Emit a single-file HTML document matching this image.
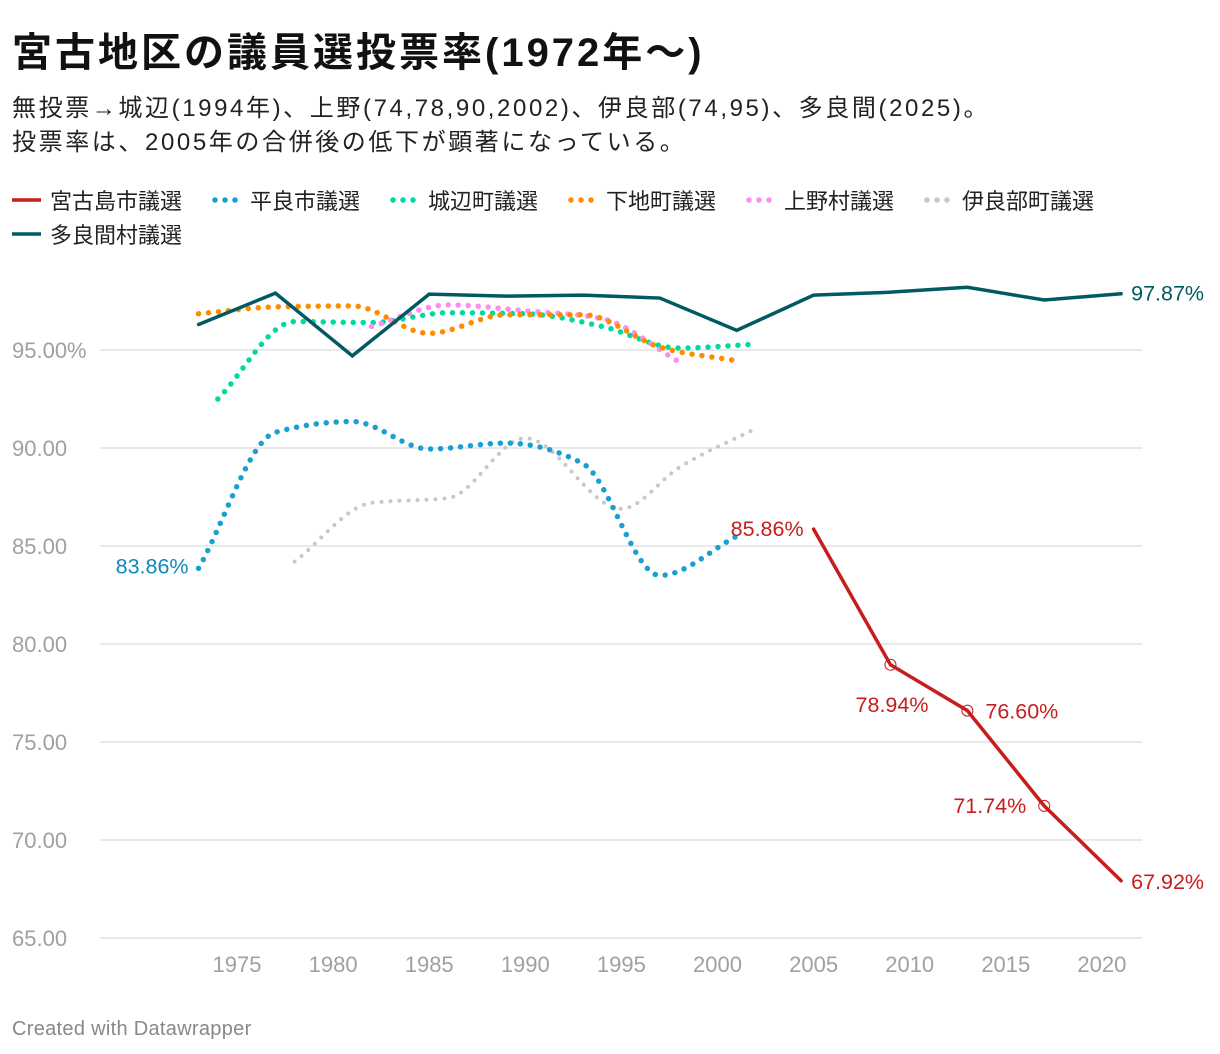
<!DOCTYPE html>
<html><head><meta charset="utf-8">
<style>
body{margin:0;background:#fff;width:1220px;height:1054px;overflow:hidden;font-family:"Liberation Sans","Noto Sans CJK JP",sans-serif;}
#title{position:absolute;left:12px;top:20px;font-size:40px;font-weight:bold;color:#111;margin:0;letter-spacing:3px;white-space:nowrap}
#sub{position:absolute;left:12px;top:92px;font-size:24px;line-height:34px;color:#222;letter-spacing:2.6px;white-space:nowrap}
.leg{position:absolute;font-size:22px;color:#222;display:flex;align-items:center;white-space:nowrap}
#foot{position:absolute;left:12px;top:1018px;font-size:20px;color:#888;letter-spacing:0.3px}
svg{position:absolute;left:0;top:0}
</style></head><body>
<h1 id="title">宮古地区の議員選投票率(1972年〜)</h1>
<div id="sub">無投票→城辺(1994年)、上野(74,78,90,2002)、伊良部(74,95)、多良間(2025)。<br>投票率は、2005年の合併後の低下が顕著になっている。</div>
<div id="legend"></div>
<svg id="chart" width="1220" height="1054"></svg>
<div id="foot">Created with Datawrapper</div>
<script>
const yTicks=[65,70,75,80,85,90,95];
const xTicks=[1975,1980,1985,1990,1995,2000,2005,2010,2015,2020];
const miyakoYears=[2005,2009,2013,2017,2021];
const miyakoVals=[85.86,78.94,76.60,71.74,67.92];
const taramaYears=[1973,1977,1981,1985,1989,1993,1997,2001];
const taramaVals=[83.86,90.8,91.35,89.95,90.25,89.2,83.5,85.5];
const gusukubeYears=[1974,1978,1982,1986,1990,1994,1998,2002];
const gusukubeVals=[92.5,96.45,96.4,96.9,96.85,96.2,95.1,95.3];
const shimojiYears=[1973,1977,1981,1985,1989,1993,1997,2001];
const shimojiVals=[96.85,97.2,97.25,95.85,96.8,96.8,95.15,94.45];
const uenoYears=[1982,1986,1990,1994,1998];
const uenoVals=[96.2,97.3,97.0,96.6,94.4];
const irabuYears=[1978,1982,1986,1990,1995,1998,2002];
const irabuVals=[84.2,87.2,87.45,90.5,86.9,89.0,91.0];
const taramasonYears=[1973,1977,1981,1985,1989,1993,1997,2001,2005,2009,2013,2017,2021];
const taramasonVals=[96.3,97.9,94.7,97.85,97.75,97.8,97.65,96.0,97.8,97.95,98.2,97.55,97.87];

const X=y=>237+(y-1975)*19.22;
const Y=v=>938-(v-65)*19.6;
const NS='http://www.w3.org/2000/svg';
const svg=document.getElementById('chart');
function mk(t,a){const e=document.createElementNS(NS,t);for(const k in a)e.setAttribute(k,a[k]);svg.appendChild(e);return e;}

yTicks.forEach(v=>{
  const l=mk('line',{x1:100,x2:1142,y1:Y(v),y2:Y(v),stroke:'#e2e2e2','stroke-width':1.5});
  
  
  const t=mk('text',{x:12,y:Y(v)+8,'font-size':22,fill:'#a0a0a0','font-family':'Liberation Sans, sans-serif'});
  t.textContent=v.toFixed(2)+(v===95?'%':'');
  
  
});
xTicks.forEach(y=>{
  const t=mk('text',{x:X(y),y:972,'font-size':22,fill:'#a0a0a0','text-anchor':'middle','font-family':'Liberation Sans, sans-serif'});
  t.textContent=y;
  
  
});

function monotone(xs,ys){
  const n=xs.length;if(n<2)return '';
  const d=[],m=[];
  for(let i=0;i<n-1;i++)d.push((ys[i+1]-ys[i])/(xs[i+1]-xs[i]));
  m[0]=d[0];m[n-1]=d[n-2];
  for(let i=1;i<n-1;i++){
    if(d[i-1]*d[i]<=0)m[i]=0;
    else{const h0=xs[i]-xs[i-1],h1=xs[i+1]-xs[i];const p=(d[i-1]*h1+d[i]*h0)/(h0+h1);
      m[i]=(Math.sign(d[i-1])+Math.sign(d[i]))*Math.min(Math.abs(d[i-1]),Math.abs(d[i]),0.5*Math.abs(p));}
  }
  let s='M'+xs[0]+','+ys[0];
  for(let i=0;i<n-1;i++){const h=(xs[i+1]-xs[i])/3;
    s+=` C${xs[i]+h},${ys[i]+m[i]*h} ${xs[i+1]-h},${ys[i+1]-m[i+1]*h} ${xs[i+1]},${ys[i+1]}`;}
  return s;
}
function linear(xs,ys){return xs.map((x,i)=>(i?'L':'M')+x+','+ys[i]).join(' ');}

const series=[
 {name:'irabu-line',yrs:irabuYears,vals:irabuVals,c:'#c8c8c8',dot:true,w:4,g:9},
 {name:'tarama-line',yrs:taramaYears,vals:taramaVals,c:'#1aa0d0',dot:true,w:5.5,g:10},
 {name:'gusukube-line',yrs:gusukubeYears,vals:gusukubeVals,c:'#00d9a0',dot:true,w:5.5,g:10},
 {name:'ueno-line',yrs:uenoYears,vals:uenoVals,c:'#ff8cf0',dot:true,w:5.5,g:10},
 {name:'shimoji-line',yrs:shimojiYears,vals:shimojiVals,c:'#ff8c00',dot:true,w:5.5,g:10},
 {name:'taramason-line',yrs:taramasonYears,vals:taramasonVals,c:'#005a64',dot:false,w:3.5},
 {name:'miyakojima-line',yrs:miyakoYears,vals:miyakoVals,c:'#c71e1d',dot:false,w:3.5}
];
series.forEach(s=>{
  const xs=s.yrs.map(X),ys=s.vals.map(Y);
  const a={d:s.dot?monotone(xs,ys):linear(xs,ys),fill:'none',stroke:s.c,'stroke-width':s.w,'stroke-linecap':'round','stroke-linejoin':'miter'};
  if(s.dot)a['stroke-dasharray']='0 '+s.g;
  const p=mk('path',a);
  
  
});
[1,2,3].forEach(i=>{
  const c=mk('circle',{cx:X(miyakoYears[i]),cy:Y(miyakoVals[i]),r:5.5,fill:'none',stroke:'#c71e1d','stroke-width':1});
  
  
});
function lab(txt,x,y,anchor,col,name){
  const t=mk('text',{x:x,y:y,'font-size':21.5,fill:col,'text-anchor':anchor,'font-family':'Liberation Sans, sans-serif'});
  t.textContent=txt;
  
  
}
const R='#c71e1d';
lab(taramaVals[0].toFixed(2)+'%',X(taramaYears[0])-10,Y(taramaVals[0])+5,'end','#1089b8','tarama-start-label');
lab(miyakoVals[0].toFixed(2)+'%',X(miyakoYears[0])-10,Y(miyakoVals[0])+7,'end',R,'miyakojima-label-2005');
lab(miyakoVals[1].toFixed(2)+'%',X(miyakoYears[1])+38,Y(miyakoVals[1])+47,'end',R,'miyakojima-label-2009');
lab(miyakoVals[2].toFixed(2)+'%',X(miyakoYears[2])+18,Y(miyakoVals[2])+8,'start',R,'miyakojima-label-2013');
lab(miyakoVals[3].toFixed(2)+'%',X(miyakoYears[3])-18,Y(miyakoVals[3])+7,'end',R,'miyakojima-label-2017');
lab(miyakoVals[4].toFixed(2)+'%',X(miyakoYears[4])+10,Y(miyakoVals[4])+8,'start',R,'miyakojima-label-2021');
lab(taramasonVals[12].toFixed(2)+'%',X(taramasonYears[12])+10,Y(taramasonVals[12])+7,'start','#005a64','taramason-end-label');

const legItems=[
 ['宮古島市議選','#c71e1d',false,12,199],['平良市議選','#1aa0d0',true,212,199],['城辺町議選','#00d9a0',true,390,199],
 ['下地町議選','#ff8c00',true,568,199],['上野村議選','#ff8cf0',true,746,199],['伊良部町議選','#c8c8c8',true,924,199],
 ['多良間村議選','#005a64',false,12,233]];
const leg=document.getElementById('legend');
legItems.forEach(it=>{
  const d=document.createElement('div');d.className='leg';
  d.style.left=it[3]+'px';d.style.top=(it[4]-15)+'px';
  const sw=it[2]?`<svg style="position:static" width="30" height="8"><line x1="3" x2="28" y1="4" y2="4" stroke="${it[1]}" stroke-width="5.5" stroke-linecap="round" stroke-dasharray="0 10"/></svg>`
    :`<svg style="position:static" width="30" height="8"><line x1="0" x2="29" y1="4" y2="4" stroke="${it[1]}" stroke-width="3.5"/></svg>`;
  d.innerHTML=sw+'<span style="margin-left:8px">'+it[0]+'</span>';
  
  
  leg.appendChild(d);
});
</script>
</body></html>
